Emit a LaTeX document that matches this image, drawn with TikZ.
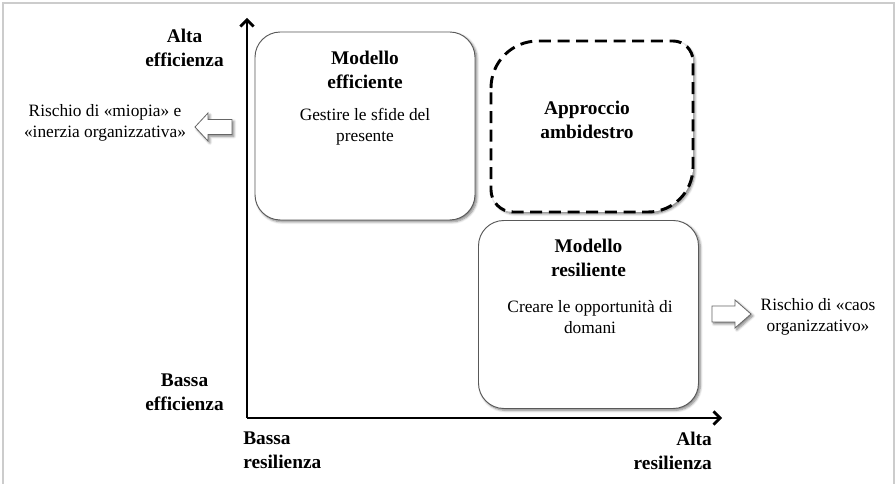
\documentclass[tikz,border=0pt]{standalone}
\usepackage{fontspec}
\setmainfont{Liberation Serif}
\usetikzlibrary{arrows.meta,shadows.blur}

\begin{document}
\begin{tikzpicture}[x=0.75pt,y=-0.75pt,
    ombra/.style={blur shadow={shadow blur steps=6, shadow xshift=1.4pt, shadow yshift=-1.4pt, shadow opacity=50}},
    quadrante/.style={draw=black!65, line width=0.7pt, fill=white, rounded corners=19pt, ombra,
      minimum width=165pt, minimum height=141pt, inner sep=0pt},
    titolo/.style={align=center, inner sep=0pt, font=\fontsize{14.5}{18}\selectfont\bfseries},
    testo/.style={align=center, inner sep=0pt, font=\fontsize{13}{15.5}\selectfont},
    asse/.style={line width=2.2pt, -{Straight Barb[length=5pt,width=10pt,line width=2pt]}},
    freccia/.style={draw=black!60, line width=0.6pt, fill=white, ombra}]
    \useasboundingbox (0,0) rectangle (896,484);
    % Cornice
    \draw [black!20, line width=1.5pt] (3,484) -- (3,3) -- (894,3) -- (894,484);
    % Assi
    \coordinate (origine) at (247,418);
    \coordinate (cima) at (247,18);
    \coordinate (fondo) at (722,418);
    \draw [asse] (origine) -- (cima);
    \draw [asse] (origine) -- (fondo);
    \node [titolo, anchor=east] (altaeff) at (224,47.5) {Alta\\efficienza};
    \node [titolo, anchor=east] (bassaeff) at (224,392.5) {Bassa\\efficienza};
    \node [titolo, anchor=west, align=left] (bassares) at (243,450) {Bassa\\resilienza};
    \node [titolo, anchor=east, align=right] (altares) at (712,451) {Alta\\resilienza};
    % Modello efficiente
    \node [quadrante] (efficiente) at (365,126) {};
    \node [titolo] (efftit) at (365,70) {Modello\\efficiente};
    \node [testo] (efftxt) at (365,127) {Gestire le sfide del\\presente};
    % Approccio ambidestro
    \draw [ombra, fill=white, line width=2.2pt, dash pattern=on 9pt off 5pt]
      (491,88) .. controls (491,62) and (512,41) .. (538,41) -- (673,41)
      .. controls (684,41) and (693,50) .. (693,61) -- (693,167)
      .. controls (693,192) and (673,212) .. (648,212) -- (513,212)
      .. controls (501,212) and (491,202) .. (491,190) -- cycle;
    \node [titolo] (ambidestro) at (587,119.5) {Approccio\\ambidestro};
    % Modello resiliente
    \node [quadrante] (resiliente) at (588.5,314.5) {};
    \node [titolo] (restit) at (588.5,257.5) {Modello\\resiliente};
    \node [testo] (restxt) at (590,317) {Creare le opportunità di\\domani};
    % Rischi
    \node [testo] (miopia) at (105,123) {Rischio di «miopia» e\\«inerzia organizzativa»};
    \draw [freccia] (195,127) -- (208,113) -- (208,119.5) -- (232,119.5) -- (232,134.5)
      -- (208,134.5) -- (208,141) -- cycle;
    \node [testo] (caos) at (818,317) {Rischio di «caos\\organizzativo»};
    \draw [freccia] (712,306) -- (735,306) -- (735,300) -- (751,314) -- (735,328)
      -- (735,322) -- (712,322) -- cycle;
\end{tikzpicture}
\end{document}
